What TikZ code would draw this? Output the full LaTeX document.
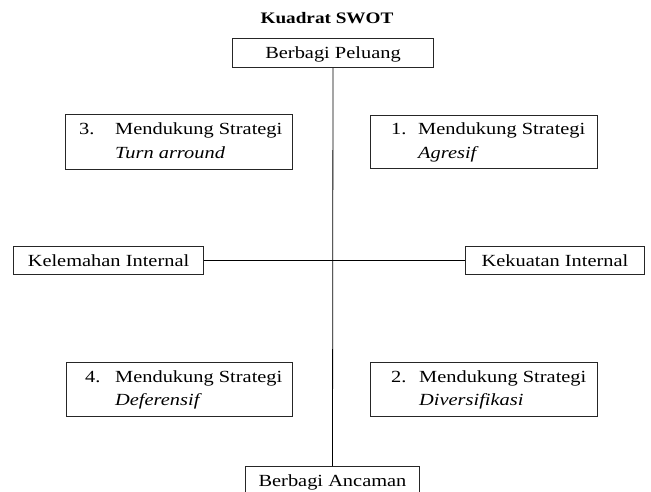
\documentclass[tikz,border=0pt]{standalone}
\usepackage{fontspec}
\setmainfont{Liberation Serif}[FakeStretch=1.2]
\begin{document}
\begin{tikzpicture}[x=1pt,y=-1pt,
  box/.style={draw=black!85, line width=1pt, inner sep=0pt, anchor=north west,
    font=\fontsize{17}{20}\selectfont, text height=11pt, text depth=0pt},
  txt/.style={anchor=base west, inner sep=0pt, font=\fontsize{17}{20}\selectfont},
  link/.style={draw=black, line width=0.8pt}]
\clip (0,0) rectangle (651,492);
\node[font=\bfseries\fontsize{16}{19}\selectfont, anchor=base, inner sep=0pt] (title) at (327,24) {Kuadrat SWOT};
% top and bottom
\node[box, minimum width=201pt, minimum height=29pt] (peluang) at (232,38) {Berbagi Peluang};
\node[box, minimum width=174pt, minimum height=28pt] (ancaman) at (245,466) {Berbagi Ancaman};
% left and right
\node[box, minimum width=190pt, minimum height=28pt] (kelemahan) at (13,246) {Kelemahan Internal};
\node[box, minimum width=179pt, minimum height=28pt] (kekuatan) at (465,246) {Kekuatan Internal};
% strategy boxes
\node[box, minimum width=227pt, minimum height=55pt] (s3) at (65,114) {};
\node[box, minimum width=227pt, minimum height=53pt] (s1) at (370,115) {};
\node[box, minimum width=226pt, minimum height=54pt] (s4) at (66,362) {};
\node[box, minimum width=227pt, minimum height=54pt] (s2) at (370,362) {};
% texts in strategy boxes
\node[txt] (n3) at (79,135) {3.};
\node[txt] (m3) at (115,135) {Mendukung Strategi};
\node[txt] (t3) at (115,159) {\itshape Turn arround};
\node[txt] (n1) at (391,135) {1.};
\node[txt] (m1) at (418,135) {Mendukung Strategi};
\node[txt] (t1) at (418,159) {\itshape Agresif};
\node[txt] (n4) at (85,382) {4.};
\node[txt] (m4) at (115,382) {Mendukung Strategi};
\node[txt] (t4) at (115,405) {\itshape Deferensif};
\node[txt] (n2) at (391,382) {2.};
\node[txt] (m2) at (419,382) {Mendukung Strategi};
\node[txt] (t2) at (419,405) {\itshape Diversifikasi};
% axes
\draw[link] (peluang.south) -- (ancaman.north);
\draw[link] (kelemahan.east) -- (kekuatan.west);
\end{tikzpicture}
\end{document}
